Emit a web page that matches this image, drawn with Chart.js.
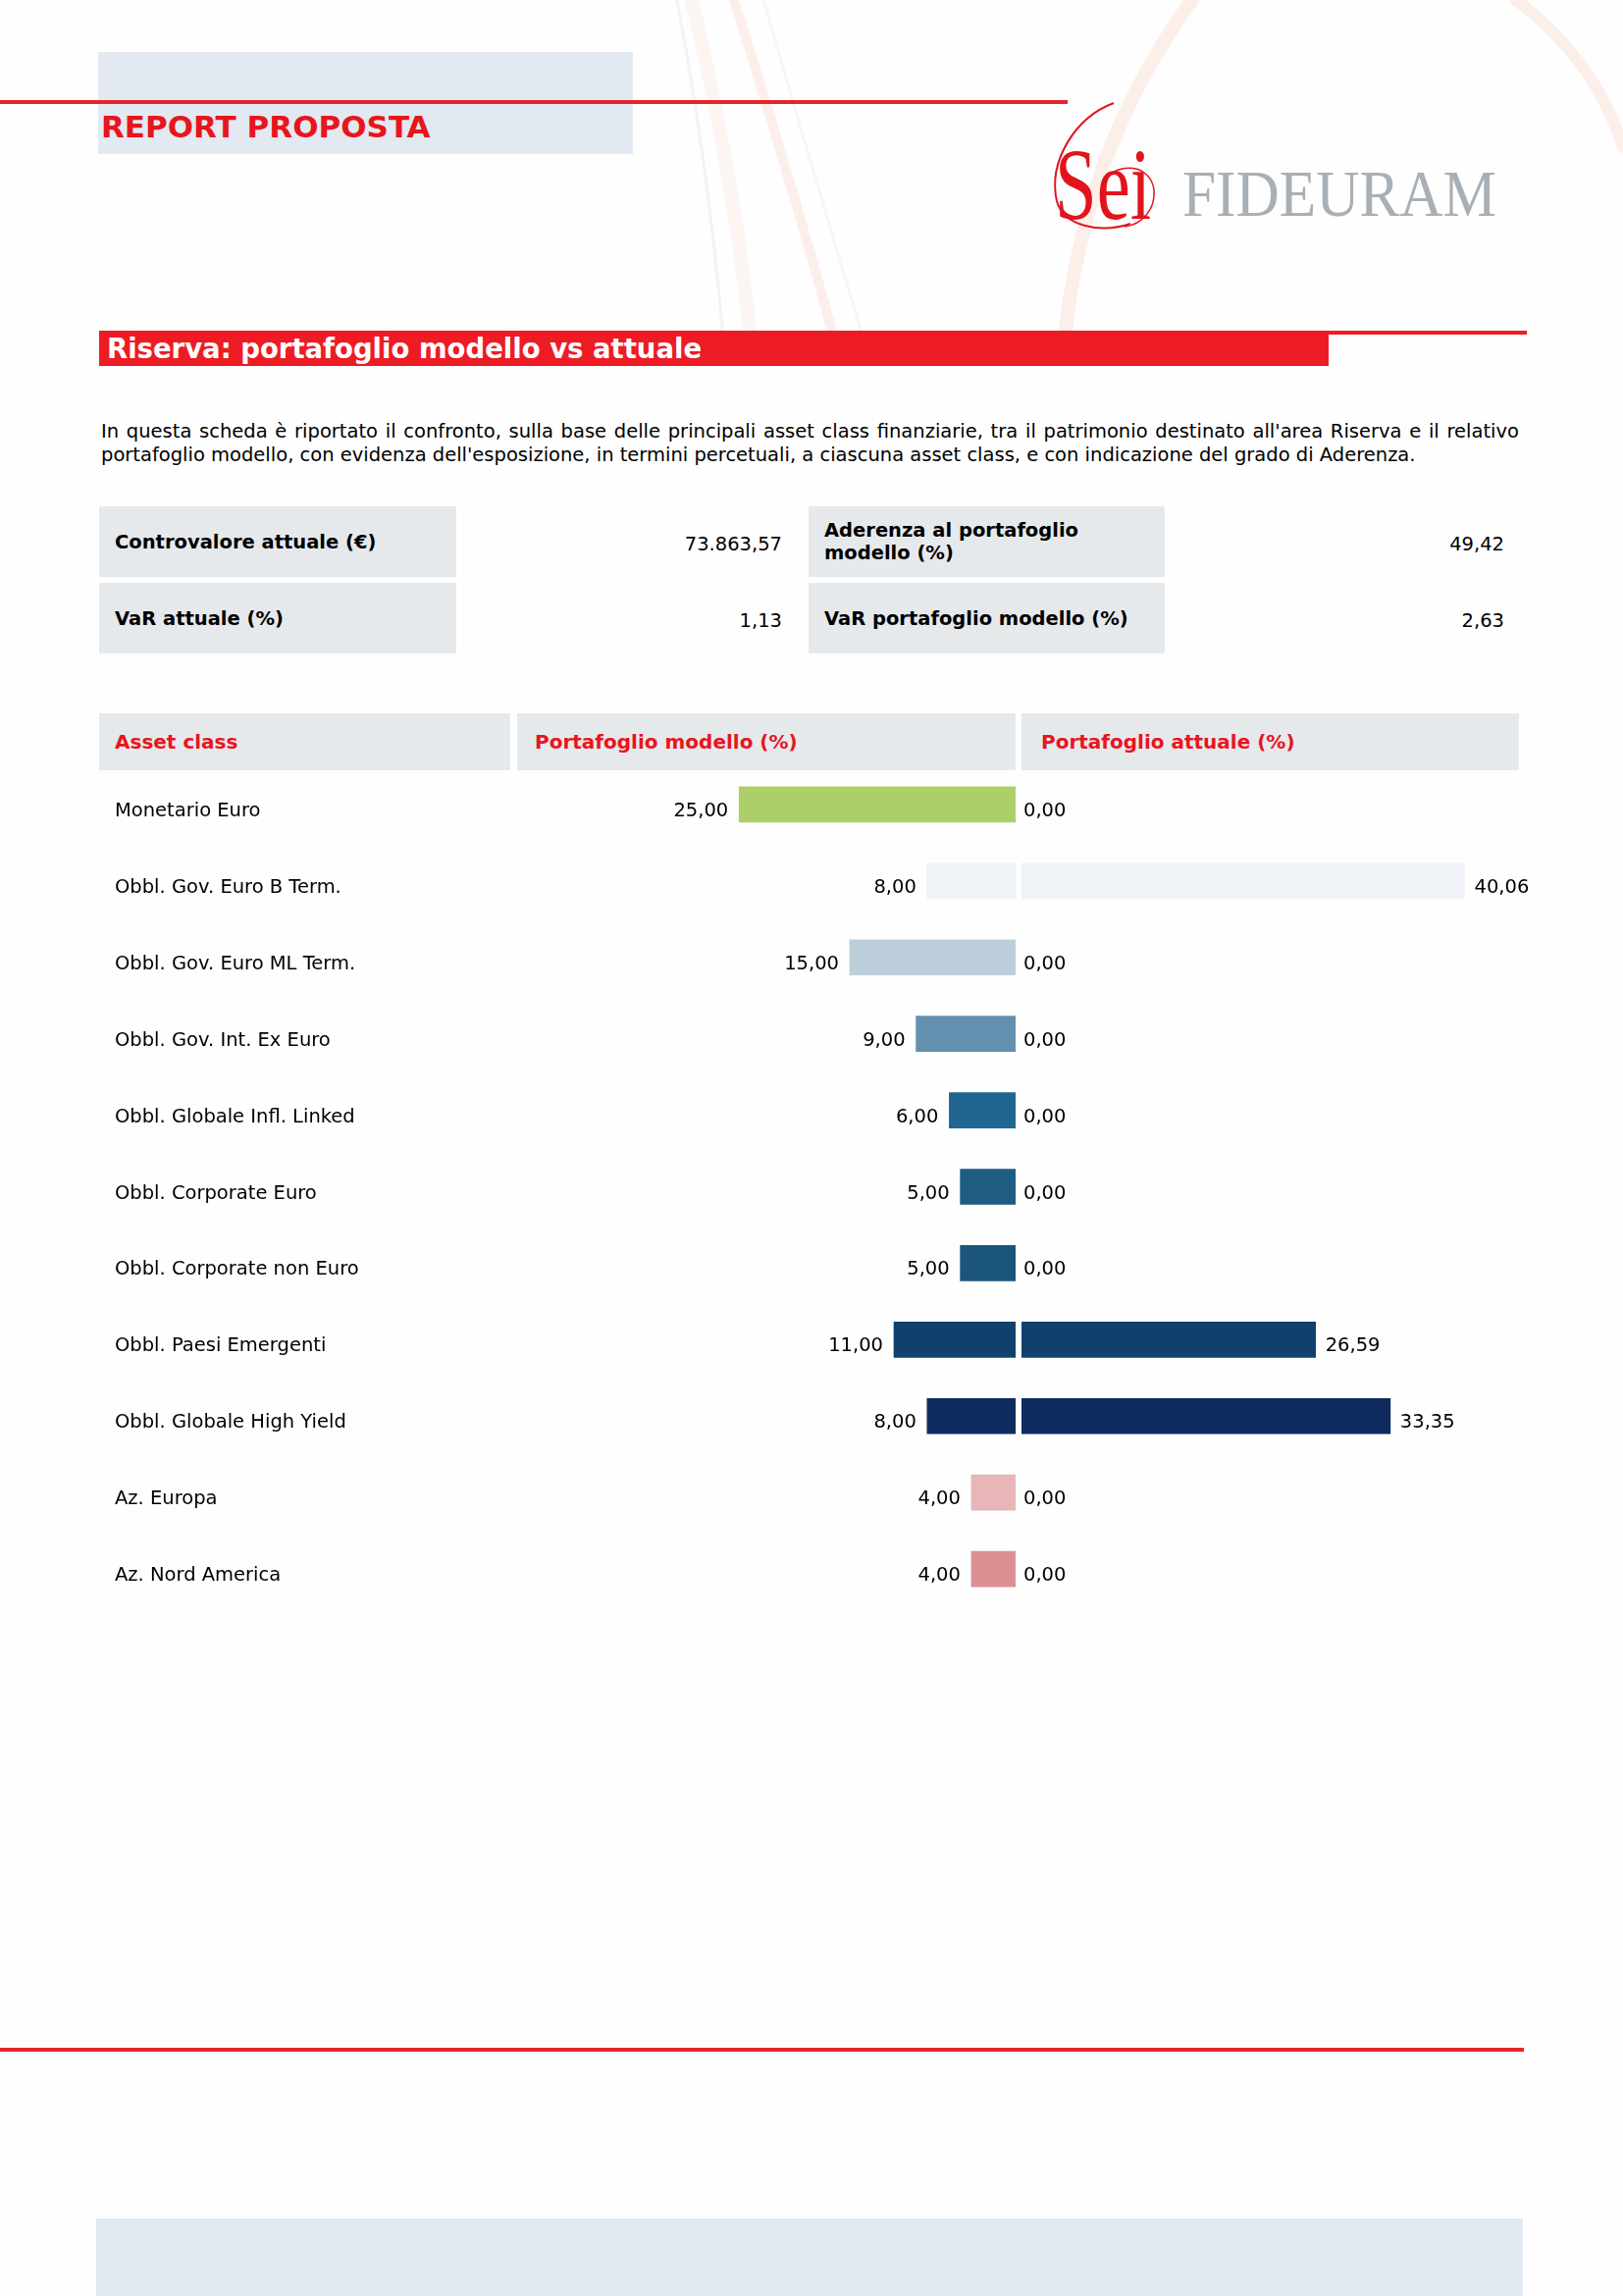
<!DOCTYPE html>
<html lang="it">
<head>
    <meta charset="UTF-8">
    <title>Riserva: portafoglio modello vs attuale</title>
    <script src="https://cdn.jsdelivr.net/npm/chart.js"></script>
    <style>
        body {
            margin: 0;
            width: 1654px;
            height: 2340px;
            position: relative;
            overflow: hidden;
            background: #fefefe;
            font-family: 'DejaVu Sans', Verdana, sans-serif;
            color: #000;
        }

        .abs { position: absolute; }

        .top-box { left: 100px; top: 53px; width: 545px; height: 104px; background: #e2e9f0; }
        .top-line { left: 0; top: 102px; width: 1088px; height: 4px; background: #e3262b; }
        .report-title {
            left: 103px; top: 111px;
            font-size: 31px; font-weight: bold; color: #e8151d;
        }

        .section-line { left: 101px; top: 337px; width: 1455px; height: 4px; background: #ed1c24; }
        .section-bar {
            left: 101px; top: 337px; width: 1253px; height: 36px;
            background: #ed1c24; color: #fff;
            font-size: 27.5px; font-weight: bold;
            line-height: 36px; padding-left: 8px; box-sizing: border-box;
        }

        .intro {
            left: 103px; top: 428px; width: 1445px;
            font-size: 19.5px; line-height: 24px; text-align: justify;
        }

        .cell {
            background: #e6e9ec;
            display: flex; align-items: center;
            box-sizing: border-box; padding-left: 16px;
            font-size: 19.5px; font-weight: bold; line-height: 23px;
        }
        .value { font-size: 19.5px; text-align: right; }
        .head { color: #e8151d; font-size: 20px; }

        .bottom-line { left: 0; top: 2087px; width: 1553px; height: 4px; background: #e3262b; }
        .bottom-box { left: 98px; top: 2261px; width: 1454px; height: 79px; background: #e2e9f0; }
    </style>
</head>
<body>
    <!-- faint decorative arcs behind the header -->
    <svg class="abs" style="left:0;top:0" width="1654" height="345">
        <g fill="none" stroke-linecap="round">
            <path d="M 690 0 Q 722 170 737 345" stroke="rgba(190,195,200,0.18)" stroke-width="3"/>
            <path d="M 705 0 Q 748 180 765 345" stroke="rgba(240,165,135,0.10)" stroke-width="14"/>
            <path d="M 748 0 Q 805 180 850 345" stroke="rgba(240,150,120,0.14)" stroke-width="10"/>
            <path d="M 778 0 Q 830 180 880 345" stroke="rgba(190,195,200,0.14)" stroke-width="3"/>
            <path d="M 1215 0 Q 1105 150 1085 345" stroke="rgba(240,150,110,0.15)" stroke-width="14"/>
            <path d="M 1545 0 Q 1625 60 1654 150" stroke="rgba(240,150,110,0.15)" stroke-width="12"/>
        </g>
    </svg>

    <div class="abs top-box"></div>
    <div class="abs top-line"></div>
    <div class="abs report-title">REPORT PROPOSTA</div>

    <!-- logo -->
    <svg class="abs" style="left:1060px;top:95px" width="480" height="150">
        <text x="15" y="128" font-family="Liberation Serif" font-size="104" fill="#e1141c"
              textLength="98" lengthAdjust="spacingAndGlyphs">Sei</text>
        <path d="M 75 10 C 35 25, 8 70, 17 110 C 24 136, 62 143, 92 133" fill="none" stroke="#e1141c" stroke-width="2"/>
        <path d="M 66 88 C 80 70, 112 72, 116 98 C 118 118, 104 134, 86 136" fill="none" stroke="#e1141c" stroke-width="1.5"/>
        <text x="145" y="125" font-family="Liberation Serif" font-size="68" fill="#a8b0b6"
              textLength="320" lengthAdjust="spacingAndGlyphs">FIDEURAM</text>
    </svg>

    <div class="abs section-line"></div>
    <div class="abs section-bar">Riserva: portafoglio modello vs attuale</div>

    <div class="abs intro">In questa scheda è riportato il confronto, sulla base delle principali asset class finanziarie, tra il patrimonio destinato all'area Riserva e il relativo portafoglio modello, con evidenza dell'esposizione, in termini percetuali, a ciascuna asset class, e con indicazione del grado di Aderenza.</div>

    <!-- summary table -->
    <div class="abs cell" style="left:101px;top:516px;width:364px;height:72px">Controvalore attuale (€)</div>
    <div class="abs value" style="left:480px;top:543px;width:317px">73.863,57</div>
    <div class="abs cell" style="left:824px;top:516px;width:363px;height:72px">Aderenza al portafoglio<br>modello (%)</div>
    <div class="abs value" style="left:1200px;top:543px;width:333px">49,42</div>
    <div class="abs cell" style="left:101px;top:594px;width:364px;height:72px">VaR attuale (%)</div>
    <div class="abs value" style="left:480px;top:621px;width:317px">1,13</div>
    <div class="abs cell" style="left:824px;top:594px;width:363px;height:72px">VaR portafoglio modello (%)</div>
    <div class="abs value" style="left:1200px;top:621px;width:333px">2,63</div>

    <!-- chart header -->
    <div class="abs cell head" style="left:101px;top:727px;width:419px;height:58px">Asset class</div>
    <div class="abs cell head" style="left:527px;top:727px;width:508px;height:58px;padding-left:18px">Portafoglio modello (%)</div>
    <div class="abs cell head" style="left:1041px;top:727px;width:507px;height:58px;padding-left:20px">Portafoglio attuale (%)</div>

    <canvas id="modelChart" class="abs" style="left:101px;top:781px" width="934" height="857"></canvas>
    <canvas id="currentChart" class="abs" style="left:1041px;top:781px" width="580" height="857"></canvas>

    <div class="abs bottom-line"></div>
    <div class="abs bottom-box"></div>

    <script>
        const categories = [
            'Monetario Euro',
            'Obbl. Gov. Euro B Term.',
            'Obbl. Gov. Euro ML Term.',
            'Obbl. Gov. Int. Ex Euro',
            'Obbl. Globale Infl. Linked',
            'Obbl. Corporate Euro',
            'Obbl. Corporate non Euro',
            'Obbl. Paesi Emergenti',
            'Obbl. Globale High Yield',
            'Az. Europa',
            'Az. Nord America'
        ];
        const modelValues = [25.00, 8.00, 15.00, 9.00, 6.00, 5.00, 5.00, 11.00, 8.00, 4.00, 4.00];
        const currentValues = [0.00, 40.06, 0.00, 0.00, 0.00, 0.00, 0.00, 26.59, 33.35, 0.00, 0.00];
        const barColors = [
            '#adcf67', '#eff2f6', '#bdcedb', '#6490b0', '#1f6690', '#1e5c82',
            '#1b557b', '#0f406e', '#0f2b5f', '#e8b6b7', '#dc8f92'
        ];

        const PX_PER_PCT = 11.27;
        const MODEL_MAX = 40;
        const CURRENT_MAX = 45;
        const LABEL_FONT = { family: 'DejaVu Sans', size: 19.5 };

        const fmt = v => v.toFixed(2).replace('.', ',');
        const barColor = ctx => ctx.raw === 0 ? 'rgba(0,0,0,0)' : barColors[ctx.dataIndex];

        // writes the value next to each bar, italian format
        const valueLabels = {
            id: 'valueLabels',
            afterDatasetsDraw(chart, args, opts) {
                const ctx = chart.ctx;
                const meta = chart.getDatasetMeta(0);
                const values = chart.data.datasets[0].data;
                ctx.save();
                ctx.font = LABEL_FONT.size + 'px ' + LABEL_FONT.family;
                ctx.fillStyle = '#000';
                ctx.textBaseline = 'middle';
                meta.data.forEach((bar, i) => {
                    const y = bar.y + 7;
                    if (opts.side === 'left') {
                        ctx.textAlign = 'right';
                        ctx.fillText(fmt(values[i]), bar.x - 11, y);
                    } else {
                        ctx.textAlign = 'left';
                        const x = values[i] > 0 ? bar.x + 10 : bar.base + 2;
                        ctx.fillText(fmt(values[i]), x, y);
                    }
                });
                ctx.restore();
            }
        };

        const baseOptions = {
            indexAxis: 'y',
            responsive: false,
            animation: false,
            devicePixelRatio: 1,
            events: []
        };

        const modelCanvas = document.getElementById('modelChart');
        const modelAxisWidth = modelCanvas.width - 16 - MODEL_MAX * PX_PER_PCT;

        new Chart(modelCanvas, {
            type: 'bar',
            data: {
                labels: categories,
                datasets: [{ data: modelValues, backgroundColor: barColor, barThickness: 36 }]
            },
            options: {
                ...baseOptions,
                layout: { padding: { left: 16, right: 0, top: 0, bottom: 0 } },
                plugins: {
                    legend: { display: false },
                    tooltip: { enabled: false },
                    valueLabels: { side: 'left' }
                },
                scales: {
                    x: { display: false, reverse: true, min: 0, max: MODEL_MAX },
                    y: {
                        position: 'left',
                        grid: { display: false, drawTicks: false },
                        border: { display: false },
                        ticks: { crossAlign: 'far', color: '#000', font: LABEL_FONT, labelOffset: 7, padding: 0 },
                        afterFit(scale) {
                            scale.width = modelAxisWidth;
                            // keep the rows on the same grid as the right-hand chart
                            scale.paddingTop = 0;
                            scale.paddingBottom = 0;
                        }
                    }
                }
            },
            plugins: [valueLabels]
        });

        const currentCanvas = document.getElementById('currentChart');

        new Chart(currentCanvas, {
            type: 'bar',
            data: {
                labels: categories,
                datasets: [{ data: currentValues, backgroundColor: barColor, barThickness: 36 }]
            },
            options: {
                ...baseOptions,
                layout: { padding: { left: 0, right: currentCanvas.width - CURRENT_MAX * PX_PER_PCT, top: 0, bottom: 0 } },
                plugins: {
                    legend: { display: false },
                    tooltip: { enabled: false },
                    valueLabels: { side: 'right' }
                },
                scales: {
                    x: { display: false, min: 0, max: CURRENT_MAX },
                    y: { display: false }
                }
            },
            plugins: [valueLabels]
        });
    </script>
</body>
</html>
